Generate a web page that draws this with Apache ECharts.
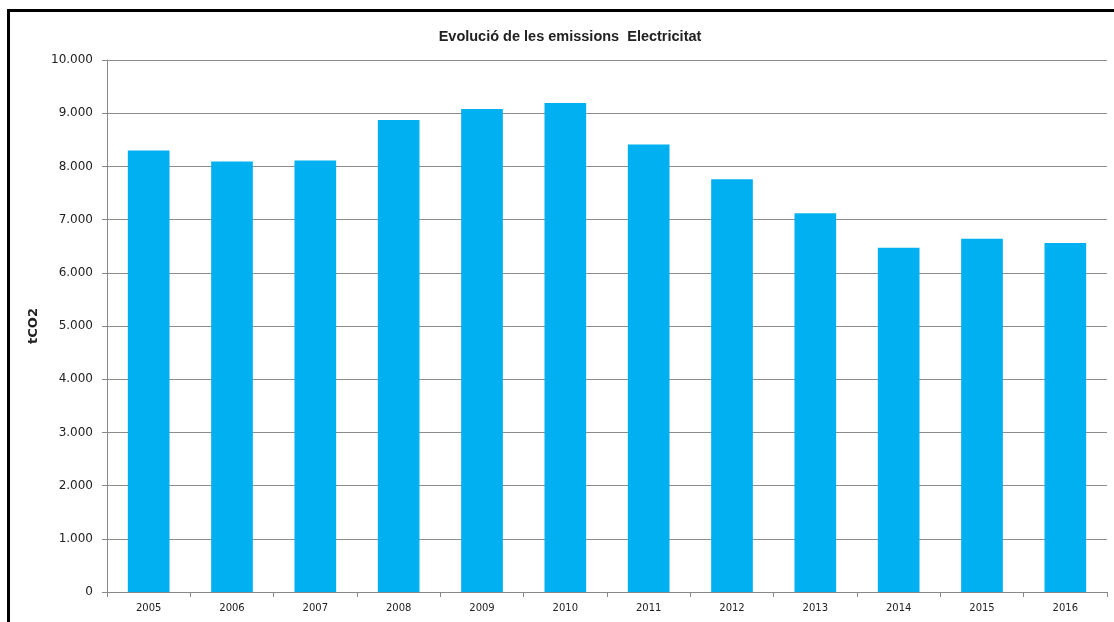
<!DOCTYPE html>
<html>
<head>
<meta charset="utf-8">
<script src="https://cdn.jsdelivr.net/npm/echarts@6/dist/echarts.min.js"></script>
<style>
html,body{margin:0;padding:0;background:#fff;}
#chart{width:1114px;height:622px;}
</style>
</head>
<body>
<div id="chart"></div>
<script>
const categories = ['2005','2006','2007','2008','2009','2010','2011','2012','2013','2014','2015','2016'];
const emissions = [8300, 8090, 8110, 8870, 9080, 9190, 8410, 7760, 7120, 6470, 6640, 6560];
const titleText = 'Evolució de les emissions  Electricitat';
const yAxisName = 'tCO2';

const chart = echarts.init(document.getElementById('chart'));
chart.setOption({
  animation: false,
  backgroundColor: '#fff',
  graphic: [{
    type: 'rect',
    shape: {x: 8.5, y: 10.5, width: 1200, height: 700},
    style: {fill: null, stroke: '#000', lineWidth: 3},
    silent: true
  }],
  title: {
    text: titleText,
    left: 565,
    top: 24,
    textAlign: 'center',
    textStyle: {fontFamily: 'Liberation Sans, Arial', fontSize: 14.5, fontWeight: 'bold', color: '#222'}
  },
  grid: {left: 107, right: 7, top: 60, bottom: 30, containLabel: false},
  xAxis: {
    type: 'category',
    data: categories,
    boundaryGap: true,
    axisLine: {lineStyle: {color: '#888', width: 1}},
    axisTick: {show: true, alignWithLabel: false, length: 5, lineStyle: {color: '#888'}},
    axisLabel: {fontFamily: 'DejaVu Sans, Verdana', fontSize: 10, color: '#222', margin: 11}
  },
  yAxis: {
    type: 'value',
    min: 0,
    max: 10000,
    interval: 1000,
    name: yAxisName,
    nameLocation: 'middle',
    nameGap: 64,
    nameTextStyle: {fontFamily: 'DejaVu Sans, Verdana', fontSize: 13, fontWeight: 'bold', color: '#222'},
    axisLine: {show: true, lineStyle: {color: '#888', width: 1}},
    axisTick: {show: true, length: 5, inside: false, lineStyle: {color: '#888'}},
    splitLine: {show: true, lineStyle: {color: '#8c8c8c', width: 1}},
    axisLabel: {
      fontFamily: 'DejaVu Sans, Verdana',
      fontSize: 12,
      color: '#222',
      margin: 14,
      formatter: function (v) { return v.toLocaleString('de-DE'); }
    }
  },
  series: [{
    type: 'bar',
    data: emissions,
    barWidth: '50%',
    itemStyle: {color: '#00B0F0'}
  }]
});
</script>
</body>
</html>
